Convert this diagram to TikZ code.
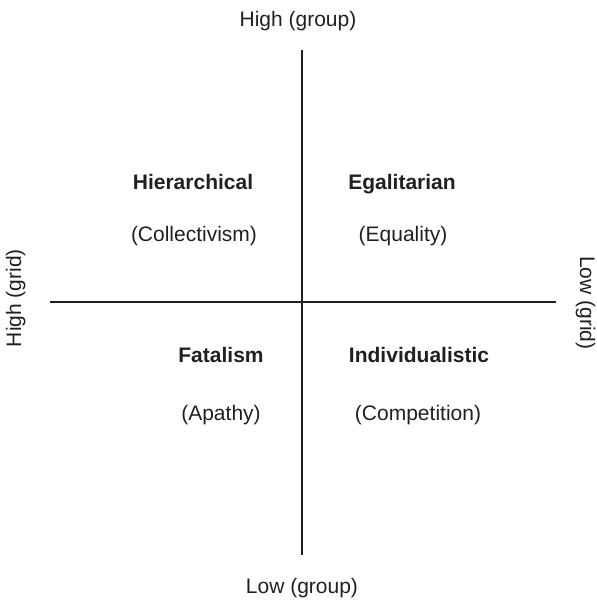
\documentclass[tikz,border=0pt]{standalone}
\usepackage{fontspec}
\setmainfont{Liberation Sans}
\definecolor{ink}{HTML}{231F20}
\begin{document}
\begin{tikzpicture}[x=1pt,y=-1pt,
  lbl/.style={inner sep=0pt,anchor=base,text=ink,font=\fontsize{21}{25}\selectfont},
  head/.style={lbl,font=\fontsize{21}{25}\selectfont\bfseries},
  axis/.style={draw=ink,line width=1.3pt}]
\useasboundingbox (0,0) rectangle (596,601);
% axes
\coordinate (top) at (302,50);
\coordinate (bottom) at (302,555);
\coordinate (left) at (50,302);
\coordinate (right) at (556,302);
\draw[axis] (top) -- (bottom);
\draw[axis] (left) -- (right);
% axis labels
\node[lbl] (hgroup) at (298,27) {High (group)};
\node[lbl] (lgroup) at (302,593) {Low (group)};
\node[lbl,rotate=90] (hgrid) at (21,298) {High (grid)};
\node[lbl,rotate=-90] (lgrid) at (580,303) {Low (grid)};
% quadrants
\node[head] (hier) at (193,190) {Hierarchical};
\node[lbl] (coll) at (194,242) {(Collectivism)};
\node[head] (egal) at (402,190) {Egalitarian};
\node[lbl] (equa) at (403,242) {(Equality)};
\node[head] (fata) at (221,362) {Fatalism};
\node[lbl] (apat) at (221,420) {(Apathy)};
\node[head] (indi) at (419,362) {Individualistic};
\node[lbl] (comp) at (418,420) {(Competition)};
\end{tikzpicture}
\end{document}
